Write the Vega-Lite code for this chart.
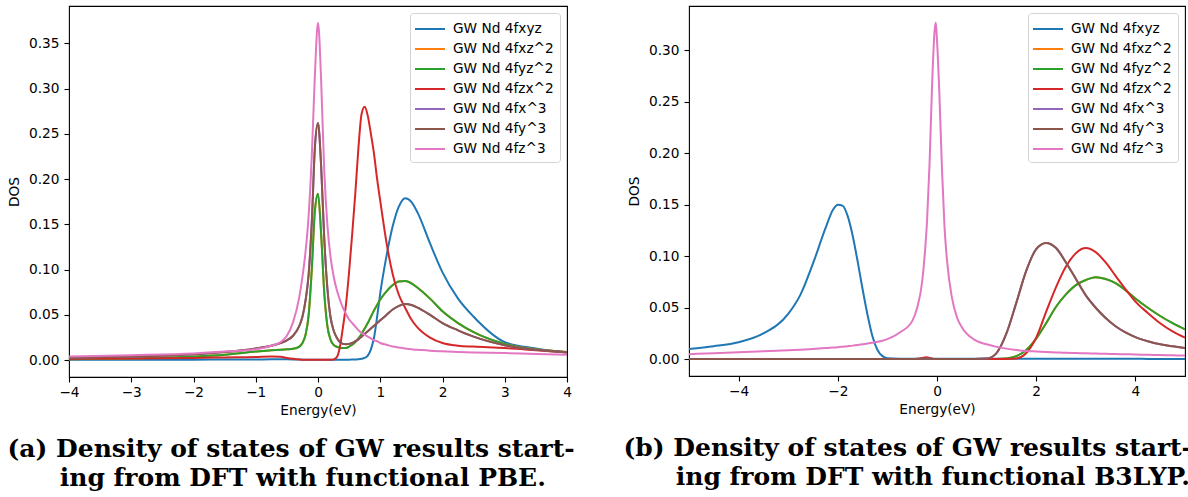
{
  "$schema": "https://vega.github.io/schema/vega-lite/v6.json",
  "background": "white",
  "padding": {"left": 6, "top": 5, "right": 0, "bottom": 0},
  "datasets": {
    "pbe": [
      {"e": -4, "GW Nd 4fxyz": 0.0005, "GW Nd 4fxz^2": 0.001, "GW Nd 4fyz^2": 0.001, "GW Nd 4fzx^2": 0.0015, "GW Nd 4fx^3": 0.0026, "GW Nd 4fy^3": 0.0026, "GW Nd 4fz^3": 0.004},
      {"e": -3, "GW Nd 4fxyz": 0.0005, "GW Nd 4fxz^2": 0.002, "GW Nd 4fyz^2": 0.002, "GW Nd 4fzx^2": 0.0018, "GW Nd 4fx^3": 0.004, "GW Nd 4fy^3": 0.004, "GW Nd 4fz^3": 0.0055},
      {"e": -2, "GW Nd 4fxyz": 0.0006, "GW Nd 4fxz^2": 0.004, "GW Nd 4fyz^2": 0.004, "GW Nd 4fzx^2": 0.0025, "GW Nd 4fx^3": 0.0065, "GW Nd 4fy^3": 0.0065, "GW Nd 4fz^3": 0.0075},
      {"e": -1.5, "GW Nd 4fxyz": 0.0007, "GW Nd 4fxz^2": 0.006, "GW Nd 4fyz^2": 0.006, "GW Nd 4fzx^2": 0.003, "GW Nd 4fx^3": 0.009, "GW Nd 4fy^3": 0.009, "GW Nd 4fz^3": 0.0095},
      {"e": -1, "GW Nd 4fxyz": 0.0008, "GW Nd 4fxz^2": 0.0095, "GW Nd 4fyz^2": 0.0095, "GW Nd 4fzx^2": 0.0035, "GW Nd 4fx^3": 0.013, "GW Nd 4fy^3": 0.013, "GW Nd 4fz^3": 0.012},
      {"e": -0.75, "GW Nd 4fxyz": 0.0009, "GW Nd 4fxz^2": 0.011, "GW Nd 4fyz^2": 0.011, "GW Nd 4fzx^2": 0.004, "GW Nd 4fx^3": 0.016, "GW Nd 4fy^3": 0.016, "GW Nd 4fz^3": 0.016},
      {"e": -0.6, "GW Nd 4fxyz": 0.001, "GW Nd 4fxz^2": 0.0115, "GW Nd 4fyz^2": 0.0115, "GW Nd 4fzx^2": 0.0038, "GW Nd 4fx^3": 0.019, "GW Nd 4fy^3": 0.019, "GW Nd 4fz^3": 0.02},
      {"e": -0.5, "GW Nd 4fxyz": 0.0009, "GW Nd 4fxz^2": 0.012, "GW Nd 4fyz^2": 0.012, "GW Nd 4fzx^2": 0.0025, "GW Nd 4fx^3": 0.022, "GW Nd 4fy^3": 0.022, "GW Nd 4fz^3": 0.027},
      {"e": -0.4, "GW Nd 4fxyz": 0.0008, "GW Nd 4fxz^2": 0.0125, "GW Nd 4fyz^2": 0.0125, "GW Nd 4fzx^2": 0.0015, "GW Nd 4fx^3": 0.027, "GW Nd 4fy^3": 0.027, "GW Nd 4fz^3": 0.042},
      {"e": -0.3, "GW Nd 4fxyz": 0.0007, "GW Nd 4fxz^2": 0.015, "GW Nd 4fyz^2": 0.015, "GW Nd 4fzx^2": 0.0008, "GW Nd 4fx^3": 0.038, "GW Nd 4fy^3": 0.038, "GW Nd 4fz^3": 0.07},
      {"e": -0.25, "GW Nd 4fxyz": 0.0006, "GW Nd 4fxz^2": 0.019, "GW Nd 4fyz^2": 0.019, "GW Nd 4fzx^2": 0.0006, "GW Nd 4fx^3": 0.048, "GW Nd 4fy^3": 0.048, "GW Nd 4fz^3": 0.092},
      {"e": -0.2, "GW Nd 4fxyz": 0.0006, "GW Nd 4fxz^2": 0.028, "GW Nd 4fyz^2": 0.028, "GW Nd 4fzx^2": 0.0005, "GW Nd 4fx^3": 0.066, "GW Nd 4fy^3": 0.066, "GW Nd 4fz^3": 0.12},
      {"e": -0.15, "GW Nd 4fxyz": 0.0006, "GW Nd 4fxz^2": 0.05, "GW Nd 4fyz^2": 0.05, "GW Nd 4fzx^2": 0.0004, "GW Nd 4fx^3": 0.095, "GW Nd 4fy^3": 0.095, "GW Nd 4fz^3": 0.16},
      {"e": -0.1, "GW Nd 4fxyz": 0.0006, "GW Nd 4fxz^2": 0.1, "GW Nd 4fyz^2": 0.1, "GW Nd 4fzx^2": 0.0004, "GW Nd 4fx^3": 0.152, "GW Nd 4fy^3": 0.152, "GW Nd 4fz^3": 0.225},
      {"e": -0.05, "GW Nd 4fxyz": 0.0006, "GW Nd 4fxz^2": 0.165, "GW Nd 4fyz^2": 0.165, "GW Nd 4fzx^2": 0.0004, "GW Nd 4fx^3": 0.235, "GW Nd 4fy^3": 0.235, "GW Nd 4fz^3": 0.315},
      {"e": 0, "GW Nd 4fxyz": 0.0006, "GW Nd 4fxz^2": 0.184, "GW Nd 4fyz^2": 0.184, "GW Nd 4fzx^2": 0.0004, "GW Nd 4fx^3": 0.262, "GW Nd 4fy^3": 0.262, "GW Nd 4fz^3": 0.373},
      {"e": 0.05, "GW Nd 4fxyz": 0.0006, "GW Nd 4fxz^2": 0.14, "GW Nd 4fyz^2": 0.14, "GW Nd 4fzx^2": 0.0004, "GW Nd 4fx^3": 0.215, "GW Nd 4fy^3": 0.215, "GW Nd 4fz^3": 0.31},
      {"e": 0.1, "GW Nd 4fxyz": 0.0006, "GW Nd 4fxz^2": 0.075, "GW Nd 4fyz^2": 0.075, "GW Nd 4fzx^2": 0.0004, "GW Nd 4fx^3": 0.135, "GW Nd 4fy^3": 0.135, "GW Nd 4fz^3": 0.21},
      {"e": 0.15, "GW Nd 4fxyz": 0.0006, "GW Nd 4fxz^2": 0.038, "GW Nd 4fyz^2": 0.038, "GW Nd 4fzx^2": 0.0004, "GW Nd 4fx^3": 0.08, "GW Nd 4fy^3": 0.08, "GW Nd 4fz^3": 0.15},
      {"e": 0.2, "GW Nd 4fxyz": 0.0006, "GW Nd 4fxz^2": 0.023, "GW Nd 4fyz^2": 0.023, "GW Nd 4fzx^2": 0.0005, "GW Nd 4fx^3": 0.048, "GW Nd 4fy^3": 0.048, "GW Nd 4fz^3": 0.115},
      {"e": 0.25, "GW Nd 4fxyz": 0.0006, "GW Nd 4fxz^2": 0.017, "GW Nd 4fyz^2": 0.017, "GW Nd 4fzx^2": 0.0008, "GW Nd 4fx^3": 0.033, "GW Nd 4fy^3": 0.033, "GW Nd 4fz^3": 0.093},
      {"e": 0.3, "GW Nd 4fxyz": 0.0006, "GW Nd 4fxz^2": 0.0148, "GW Nd 4fyz^2": 0.0148, "GW Nd 4fzx^2": 0.003, "GW Nd 4fx^3": 0.025, "GW Nd 4fy^3": 0.025, "GW Nd 4fz^3": 0.078},
      {"e": 0.35, "GW Nd 4fxyz": 0.0006, "GW Nd 4fxz^2": 0.0138, "GW Nd 4fyz^2": 0.0138, "GW Nd 4fzx^2": 0.014, "GW Nd 4fx^3": 0.02, "GW Nd 4fy^3": 0.02, "GW Nd 4fz^3": 0.067},
      {"e": 0.4, "GW Nd 4fxyz": 0.0006, "GW Nd 4fxz^2": 0.0135, "GW Nd 4fyz^2": 0.0135, "GW Nd 4fzx^2": 0.036, "GW Nd 4fx^3": 0.018, "GW Nd 4fy^3": 0.018, "GW Nd 4fz^3": 0.058},
      {"e": 0.45, "GW Nd 4fxyz": 0.0006, "GW Nd 4fxz^2": 0.0135, "GW Nd 4fyz^2": 0.0135, "GW Nd 4fzx^2": 0.062, "GW Nd 4fx^3": 0.0175, "GW Nd 4fy^3": 0.0175, "GW Nd 4fz^3": 0.051},
      {"e": 0.5, "GW Nd 4fxyz": 0.0006, "GW Nd 4fxz^2": 0.015, "GW Nd 4fyz^2": 0.015, "GW Nd 4fzx^2": 0.098, "GW Nd 4fx^3": 0.018, "GW Nd 4fy^3": 0.018, "GW Nd 4fz^3": 0.045},
      {"e": 0.55, "GW Nd 4fxyz": 0.0007, "GW Nd 4fxz^2": 0.017, "GW Nd 4fyz^2": 0.017, "GW Nd 4fzx^2": 0.14, "GW Nd 4fx^3": 0.019, "GW Nd 4fy^3": 0.019, "GW Nd 4fz^3": 0.041},
      {"e": 0.6, "GW Nd 4fxyz": 0.0008, "GW Nd 4fxz^2": 0.02, "GW Nd 4fyz^2": 0.02, "GW Nd 4fzx^2": 0.185, "GW Nd 4fx^3": 0.021, "GW Nd 4fy^3": 0.021, "GW Nd 4fz^3": 0.037},
      {"e": 0.65, "GW Nd 4fxyz": 0.001, "GW Nd 4fxz^2": 0.024, "GW Nd 4fyz^2": 0.024, "GW Nd 4fzx^2": 0.235, "GW Nd 4fx^3": 0.023, "GW Nd 4fy^3": 0.023, "GW Nd 4fz^3": 0.033},
      {"e": 0.7, "GW Nd 4fxyz": 0.0015, "GW Nd 4fxz^2": 0.029, "GW Nd 4fyz^2": 0.029, "GW Nd 4fzx^2": 0.272, "GW Nd 4fx^3": 0.026, "GW Nd 4fy^3": 0.026, "GW Nd 4fz^3": 0.03},
      {"e": 0.75, "GW Nd 4fxyz": 0.0025, "GW Nd 4fxz^2": 0.035, "GW Nd 4fyz^2": 0.035, "GW Nd 4fzx^2": 0.28, "GW Nd 4fx^3": 0.029, "GW Nd 4fy^3": 0.029, "GW Nd 4fz^3": 0.028},
      {"e": 0.8, "GW Nd 4fxyz": 0.005, "GW Nd 4fxz^2": 0.041, "GW Nd 4fyz^2": 0.041, "GW Nd 4fzx^2": 0.27, "GW Nd 4fx^3": 0.032, "GW Nd 4fy^3": 0.032, "GW Nd 4fz^3": 0.026},
      {"e": 0.85, "GW Nd 4fxyz": 0.012, "GW Nd 4fxz^2": 0.048, "GW Nd 4fyz^2": 0.048, "GW Nd 4fzx^2": 0.25, "GW Nd 4fx^3": 0.035, "GW Nd 4fy^3": 0.035, "GW Nd 4fz^3": 0.024},
      {"e": 0.9, "GW Nd 4fxyz": 0.025, "GW Nd 4fxz^2": 0.055, "GW Nd 4fyz^2": 0.055, "GW Nd 4fzx^2": 0.228, "GW Nd 4fx^3": 0.038, "GW Nd 4fy^3": 0.038, "GW Nd 4fz^3": 0.022},
      {"e": 0.95, "GW Nd 4fxyz": 0.048, "GW Nd 4fxz^2": 0.061, "GW Nd 4fyz^2": 0.061, "GW Nd 4fzx^2": 0.2, "GW Nd 4fx^3": 0.041, "GW Nd 4fy^3": 0.041, "GW Nd 4fz^3": 0.021},
      {"e": 1.0, "GW Nd 4fxyz": 0.074, "GW Nd 4fxz^2": 0.067, "GW Nd 4fyz^2": 0.067, "GW Nd 4fzx^2": 0.176, "GW Nd 4fx^3": 0.044, "GW Nd 4fy^3": 0.044, "GW Nd 4fz^3": 0.019},
      {"e": 1.1, "GW Nd 4fxyz": 0.115, "GW Nd 4fxz^2": 0.076, "GW Nd 4fyz^2": 0.076, "GW Nd 4fzx^2": 0.13, "GW Nd 4fx^3": 0.05, "GW Nd 4fy^3": 0.05, "GW Nd 4fz^3": 0.017},
      {"e": 1.2, "GW Nd 4fxyz": 0.148, "GW Nd 4fxz^2": 0.083, "GW Nd 4fyz^2": 0.083, "GW Nd 4fzx^2": 0.095, "GW Nd 4fx^3": 0.056, "GW Nd 4fy^3": 0.056, "GW Nd 4fz^3": 0.015},
      {"e": 1.3, "GW Nd 4fxyz": 0.17, "GW Nd 4fxz^2": 0.087, "GW Nd 4fyz^2": 0.087, "GW Nd 4fzx^2": 0.072, "GW Nd 4fx^3": 0.06, "GW Nd 4fy^3": 0.06, "GW Nd 4fz^3": 0.014},
      {"e": 1.4, "GW Nd 4fxyz": 0.179, "GW Nd 4fxz^2": 0.0875, "GW Nd 4fyz^2": 0.0875, "GW Nd 4fzx^2": 0.058, "GW Nd 4fx^3": 0.062, "GW Nd 4fy^3": 0.062, "GW Nd 4fz^3": 0.013},
      {"e": 1.5, "GW Nd 4fxyz": 0.175, "GW Nd 4fxz^2": 0.085, "GW Nd 4fyz^2": 0.085, "GW Nd 4fzx^2": 0.045, "GW Nd 4fx^3": 0.061, "GW Nd 4fy^3": 0.061, "GW Nd 4fz^3": 0.012},
      {"e": 1.6, "GW Nd 4fxyz": 0.163, "GW Nd 4fxz^2": 0.08, "GW Nd 4fyz^2": 0.08, "GW Nd 4fzx^2": 0.036, "GW Nd 4fx^3": 0.058, "GW Nd 4fy^3": 0.058, "GW Nd 4fz^3": 0.0115},
      {"e": 1.8, "GW Nd 4fxyz": 0.129, "GW Nd 4fxz^2": 0.068, "GW Nd 4fyz^2": 0.068, "GW Nd 4fzx^2": 0.025, "GW Nd 4fx^3": 0.05, "GW Nd 4fy^3": 0.05, "GW Nd 4fz^3": 0.0105},
      {"e": 2.0, "GW Nd 4fxyz": 0.097, "GW Nd 4fxz^2": 0.054, "GW Nd 4fyz^2": 0.054, "GW Nd 4fzx^2": 0.019, "GW Nd 4fx^3": 0.041, "GW Nd 4fy^3": 0.041, "GW Nd 4fz^3": 0.0098},
      {"e": 2.25, "GW Nd 4fxyz": 0.068, "GW Nd 4fxz^2": 0.041, "GW Nd 4fyz^2": 0.041, "GW Nd 4fzx^2": 0.016, "GW Nd 4fx^3": 0.033, "GW Nd 4fy^3": 0.033, "GW Nd 4fz^3": 0.009},
      {"e": 2.5, "GW Nd 4fxyz": 0.048, "GW Nd 4fxz^2": 0.031, "GW Nd 4fyz^2": 0.031, "GW Nd 4fzx^2": 0.015, "GW Nd 4fx^3": 0.026, "GW Nd 4fy^3": 0.026, "GW Nd 4fz^3": 0.0085},
      {"e": 3.0, "GW Nd 4fxyz": 0.02, "GW Nd 4fxz^2": 0.018, "GW Nd 4fyz^2": 0.018, "GW Nd 4fzx^2": 0.0135, "GW Nd 4fx^3": 0.0165, "GW Nd 4fy^3": 0.0165, "GW Nd 4fz^3": 0.0078},
      {"e": 3.5, "GW Nd 4fxyz": 0.013, "GW Nd 4fxz^2": 0.012, "GW Nd 4fyz^2": 0.012, "GW Nd 4fzx^2": 0.011, "GW Nd 4fx^3": 0.0115, "GW Nd 4fy^3": 0.0115, "GW Nd 4fz^3": 0.0068},
      {"e": 4.0, "GW Nd 4fxyz": 0.0085, "GW Nd 4fxz^2": 0.009, "GW Nd 4fyz^2": 0.009, "GW Nd 4fzx^2": 0.0085, "GW Nd 4fx^3": 0.0088, "GW Nd 4fy^3": 0.0088, "GW Nd 4fz^3": 0.006}
    ],
    "b3lyp": [
      {"e": -5, "GW Nd 4fxyz": 0.01, "GW Nd 4fxz^2": 0.0002, "GW Nd 4fyz^2": 0.0002, "GW Nd 4fzx^2": 0.0002, "GW Nd 4fx^3": 0.0003, "GW Nd 4fy^3": 0.0003, "GW Nd 4fz^3": 0.0049},
      {"e": -4.5, "GW Nd 4fxyz": 0.0126, "GW Nd 4fxz^2": 0.0002, "GW Nd 4fyz^2": 0.0002, "GW Nd 4fzx^2": 0.0002, "GW Nd 4fx^3": 0.0003, "GW Nd 4fy^3": 0.0003, "GW Nd 4fz^3": 0.0058},
      {"e": -4, "GW Nd 4fxyz": 0.0165, "GW Nd 4fxz^2": 0.0002, "GW Nd 4fyz^2": 0.0002, "GW Nd 4fzx^2": 0.0002, "GW Nd 4fx^3": 0.0003, "GW Nd 4fy^3": 0.0003, "GW Nd 4fz^3": 0.0068},
      {"e": -3.5, "GW Nd 4fxyz": 0.025, "GW Nd 4fxz^2": 0.0002, "GW Nd 4fyz^2": 0.0002, "GW Nd 4fzx^2": 0.0002, "GW Nd 4fx^3": 0.0003, "GW Nd 4fy^3": 0.0003, "GW Nd 4fz^3": 0.0077},
      {"e": -3, "GW Nd 4fxyz": 0.044, "GW Nd 4fxz^2": 0.0002, "GW Nd 4fyz^2": 0.0002, "GW Nd 4fzx^2": 0.0002, "GW Nd 4fx^3": 0.0003, "GW Nd 4fy^3": 0.0003, "GW Nd 4fz^3": 0.0087},
      {"e": -2.75, "GW Nd 4fxyz": 0.063, "GW Nd 4fxz^2": 0.0002, "GW Nd 4fyz^2": 0.0002, "GW Nd 4fzx^2": 0.0002, "GW Nd 4fx^3": 0.0003, "GW Nd 4fy^3": 0.0003, "GW Nd 4fz^3": 0.0093},
      {"e": -2.5, "GW Nd 4fxyz": 0.093, "GW Nd 4fxz^2": 0.0002, "GW Nd 4fyz^2": 0.0002, "GW Nd 4fzx^2": 0.0002, "GW Nd 4fx^3": 0.0003, "GW Nd 4fy^3": 0.0003, "GW Nd 4fz^3": 0.01},
      {"e": -2.25, "GW Nd 4fxyz": 0.127, "GW Nd 4fxz^2": 0.0002, "GW Nd 4fyz^2": 0.0002, "GW Nd 4fzx^2": 0.0002, "GW Nd 4fx^3": 0.0003, "GW Nd 4fy^3": 0.0003, "GW Nd 4fz^3": 0.0108},
      {"e": -2.1, "GW Nd 4fxyz": 0.145, "GW Nd 4fxz^2": 0.0002, "GW Nd 4fyz^2": 0.0002, "GW Nd 4fzx^2": 0.0002, "GW Nd 4fx^3": 0.0003, "GW Nd 4fy^3": 0.0003, "GW Nd 4fz^3": 0.0113},
      {"e": -2.0, "GW Nd 4fxyz": 0.15, "GW Nd 4fxz^2": 0.0002, "GW Nd 4fyz^2": 0.0002, "GW Nd 4fzx^2": 0.0002, "GW Nd 4fx^3": 0.0003, "GW Nd 4fy^3": 0.0003, "GW Nd 4fz^3": 0.0117},
      {"e": -1.9, "GW Nd 4fxyz": 0.149, "GW Nd 4fxz^2": 0.0002, "GW Nd 4fyz^2": 0.0002, "GW Nd 4fzx^2": 0.0002, "GW Nd 4fx^3": 0.0003, "GW Nd 4fy^3": 0.0003, "GW Nd 4fz^3": 0.0122},
      {"e": -1.8, "GW Nd 4fxyz": 0.139, "GW Nd 4fxz^2": 0.0002, "GW Nd 4fyz^2": 0.0002, "GW Nd 4fzx^2": 0.0002, "GW Nd 4fx^3": 0.0003, "GW Nd 4fy^3": 0.0003, "GW Nd 4fz^3": 0.0127},
      {"e": -1.7, "GW Nd 4fxyz": 0.12, "GW Nd 4fxz^2": 0.0002, "GW Nd 4fyz^2": 0.0002, "GW Nd 4fzx^2": 0.0002, "GW Nd 4fx^3": 0.0003, "GW Nd 4fy^3": 0.0003, "GW Nd 4fz^3": 0.0132},
      {"e": -1.6, "GW Nd 4fxyz": 0.095, "GW Nd 4fxz^2": 0.0002, "GW Nd 4fyz^2": 0.0002, "GW Nd 4fzx^2": 0.0002, "GW Nd 4fx^3": 0.0003, "GW Nd 4fy^3": 0.0003, "GW Nd 4fz^3": 0.0138},
      {"e": -1.5, "GW Nd 4fxyz": 0.068, "GW Nd 4fxz^2": 0.0002, "GW Nd 4fyz^2": 0.0002, "GW Nd 4fzx^2": 0.0002, "GW Nd 4fx^3": 0.0003, "GW Nd 4fy^3": 0.0003, "GW Nd 4fz^3": 0.0145},
      {"e": -1.4, "GW Nd 4fxyz": 0.043, "GW Nd 4fxz^2": 0.0002, "GW Nd 4fyz^2": 0.0002, "GW Nd 4fzx^2": 0.0002, "GW Nd 4fx^3": 0.0003, "GW Nd 4fy^3": 0.0003, "GW Nd 4fz^3": 0.0152},
      {"e": -1.3, "GW Nd 4fxyz": 0.022, "GW Nd 4fxz^2": 0.0002, "GW Nd 4fyz^2": 0.0002, "GW Nd 4fzx^2": 0.0002, "GW Nd 4fx^3": 0.0003, "GW Nd 4fy^3": 0.0003, "GW Nd 4fz^3": 0.016},
      {"e": -1.2, "GW Nd 4fxyz": 0.009, "GW Nd 4fxz^2": 0.0002, "GW Nd 4fyz^2": 0.0002, "GW Nd 4fzx^2": 0.0002, "GW Nd 4fx^3": 0.0003, "GW Nd 4fy^3": 0.0003, "GW Nd 4fz^3": 0.017},
      {"e": -1.1, "GW Nd 4fxyz": 0.003, "GW Nd 4fxz^2": 0.0002, "GW Nd 4fyz^2": 0.0002, "GW Nd 4fzx^2": 0.0002, "GW Nd 4fx^3": 0.0003, "GW Nd 4fy^3": 0.0003, "GW Nd 4fz^3": 0.018},
      {"e": -1.0, "GW Nd 4fxyz": 0.001, "GW Nd 4fxz^2": 0.0002, "GW Nd 4fyz^2": 0.0002, "GW Nd 4fzx^2": 0.0002, "GW Nd 4fx^3": 0.0003, "GW Nd 4fy^3": 0.0003, "GW Nd 4fz^3": 0.0195},
      {"e": -0.75, "GW Nd 4fxyz": 0.0005, "GW Nd 4fxz^2": 0.0002, "GW Nd 4fyz^2": 0.0002, "GW Nd 4fzx^2": 0.0002, "GW Nd 4fx^3": 0.0003, "GW Nd 4fy^3": 0.0003, "GW Nd 4fz^3": 0.026},
      {"e": -0.5, "GW Nd 4fxyz": 0.0004, "GW Nd 4fxz^2": 0.0002, "GW Nd 4fyz^2": 0.0002, "GW Nd 4fzx^2": 0.0003, "GW Nd 4fx^3": 0.0003, "GW Nd 4fy^3": 0.0003, "GW Nd 4fz^3": 0.037},
      {"e": -0.4, "GW Nd 4fxyz": 0.0004, "GW Nd 4fxz^2": 0.0002, "GW Nd 4fyz^2": 0.0002, "GW Nd 4fzx^2": 0.0005, "GW Nd 4fx^3": 0.0003, "GW Nd 4fy^3": 0.0003, "GW Nd 4fz^3": 0.05},
      {"e": -0.3, "GW Nd 4fxyz": 0.0004, "GW Nd 4fxz^2": 0.0002, "GW Nd 4fyz^2": 0.0002, "GW Nd 4fzx^2": 0.0012, "GW Nd 4fx^3": 0.0004, "GW Nd 4fy^3": 0.0004, "GW Nd 4fz^3": 0.075},
      {"e": -0.25, "GW Nd 4fxyz": 0.0004, "GW Nd 4fxz^2": 0.0002, "GW Nd 4fyz^2": 0.0002, "GW Nd 4fzx^2": 0.0018, "GW Nd 4fx^3": 0.0005, "GW Nd 4fy^3": 0.0005, "GW Nd 4fz^3": 0.1},
      {"e": -0.2, "GW Nd 4fxyz": 0.0004, "GW Nd 4fxz^2": 0.0002, "GW Nd 4fyz^2": 0.0002, "GW Nd 4fzx^2": 0.002, "GW Nd 4fx^3": 0.0006, "GW Nd 4fy^3": 0.0006, "GW Nd 4fz^3": 0.135},
      {"e": -0.15, "GW Nd 4fxyz": 0.0004, "GW Nd 4fxz^2": 0.0002, "GW Nd 4fyz^2": 0.0002, "GW Nd 4fzx^2": 0.0012, "GW Nd 4fx^3": 0.0004, "GW Nd 4fy^3": 0.0004, "GW Nd 4fz^3": 0.19},
      {"e": -0.1, "GW Nd 4fxyz": 0.0004, "GW Nd 4fxz^2": 0.0002, "GW Nd 4fyz^2": 0.0002, "GW Nd 4fzx^2": 0.0006, "GW Nd 4fx^3": 0.0003, "GW Nd 4fy^3": 0.0003, "GW Nd 4fz^3": 0.265},
      {"e": -0.05, "GW Nd 4fxyz": 0.0004, "GW Nd 4fxz^2": 0.0002, "GW Nd 4fyz^2": 0.0002, "GW Nd 4fzx^2": 0.0003, "GW Nd 4fx^3": 0.0003, "GW Nd 4fy^3": 0.0003, "GW Nd 4fz^3": 0.318},
      {"e": -0.025, "GW Nd 4fxyz": 0.0004, "GW Nd 4fxz^2": 0.0002, "GW Nd 4fyz^2": 0.0002, "GW Nd 4fzx^2": 0.0002, "GW Nd 4fx^3": 0.0003, "GW Nd 4fy^3": 0.0003, "GW Nd 4fz^3": 0.327},
      {"e": 0, "GW Nd 4fxyz": 0.0004, "GW Nd 4fxz^2": 0.0002, "GW Nd 4fyz^2": 0.0002, "GW Nd 4fzx^2": 0.0002, "GW Nd 4fx^3": 0.0003, "GW Nd 4fy^3": 0.0003, "GW Nd 4fz^3": 0.31},
      {"e": 0.05, "GW Nd 4fxyz": 0.0004, "GW Nd 4fxz^2": 0.0002, "GW Nd 4fyz^2": 0.0002, "GW Nd 4fzx^2": 0.0002, "GW Nd 4fx^3": 0.0003, "GW Nd 4fy^3": 0.0003, "GW Nd 4fz^3": 0.255},
      {"e": 0.1, "GW Nd 4fxyz": 0.0004, "GW Nd 4fxz^2": 0.0002, "GW Nd 4fyz^2": 0.0002, "GW Nd 4fzx^2": 0.0002, "GW Nd 4fx^3": 0.0003, "GW Nd 4fy^3": 0.0003, "GW Nd 4fz^3": 0.185},
      {"e": 0.15, "GW Nd 4fxyz": 0.0004, "GW Nd 4fxz^2": 0.0002, "GW Nd 4fyz^2": 0.0002, "GW Nd 4fzx^2": 0.0002, "GW Nd 4fx^3": 0.0003, "GW Nd 4fy^3": 0.0003, "GW Nd 4fz^3": 0.13},
      {"e": 0.2, "GW Nd 4fxyz": 0.0004, "GW Nd 4fxz^2": 0.0002, "GW Nd 4fyz^2": 0.0002, "GW Nd 4fzx^2": 0.0002, "GW Nd 4fx^3": 0.0003, "GW Nd 4fy^3": 0.0003, "GW Nd 4fz^3": 0.097},
      {"e": 0.3, "GW Nd 4fxyz": 0.0004, "GW Nd 4fxz^2": 0.0002, "GW Nd 4fyz^2": 0.0002, "GW Nd 4fzx^2": 0.0002, "GW Nd 4fx^3": 0.0003, "GW Nd 4fy^3": 0.0003, "GW Nd 4fz^3": 0.06},
      {"e": 0.4, "GW Nd 4fxyz": 0.0004, "GW Nd 4fxz^2": 0.0002, "GW Nd 4fyz^2": 0.0002, "GW Nd 4fzx^2": 0.0002, "GW Nd 4fx^3": 0.0003, "GW Nd 4fy^3": 0.0003, "GW Nd 4fz^3": 0.041},
      {"e": 0.5, "GW Nd 4fxyz": 0.0004, "GW Nd 4fxz^2": 0.0002, "GW Nd 4fyz^2": 0.0002, "GW Nd 4fzx^2": 0.0002, "GW Nd 4fx^3": 0.0003, "GW Nd 4fy^3": 0.0003, "GW Nd 4fz^3": 0.031},
      {"e": 0.75, "GW Nd 4fxyz": 0.0004, "GW Nd 4fxz^2": 0.0002, "GW Nd 4fyz^2": 0.0002, "GW Nd 4fzx^2": 0.0002, "GW Nd 4fx^3": 0.0003, "GW Nd 4fy^3": 0.0003, "GW Nd 4fz^3": 0.019},
      {"e": 1.0, "GW Nd 4fxyz": 0.0004, "GW Nd 4fxz^2": 0.0002, "GW Nd 4fyz^2": 0.0002, "GW Nd 4fzx^2": 0.0002, "GW Nd 4fx^3": 0.0006, "GW Nd 4fy^3": 0.0006, "GW Nd 4fz^3": 0.0145},
      {"e": 1.2, "GW Nd 4fxyz": 0.0004, "GW Nd 4fxz^2": 0.0003, "GW Nd 4fyz^2": 0.0003, "GW Nd 4fzx^2": 0.0002, "GW Nd 4fx^3": 0.006, "GW Nd 4fy^3": 0.006, "GW Nd 4fz^3": 0.012},
      {"e": 1.4, "GW Nd 4fxyz": 0.0004, "GW Nd 4fxz^2": 0.0008, "GW Nd 4fyz^2": 0.0008, "GW Nd 4fzx^2": 0.0003, "GW Nd 4fx^3": 0.025, "GW Nd 4fy^3": 0.025, "GW Nd 4fz^3": 0.0103},
      {"e": 1.6, "GW Nd 4fxyz": 0.0004, "GW Nd 4fxz^2": 0.003, "GW Nd 4fyz^2": 0.003, "GW Nd 4fzx^2": 0.0008, "GW Nd 4fx^3": 0.055, "GW Nd 4fy^3": 0.055, "GW Nd 4fz^3": 0.009},
      {"e": 1.8, "GW Nd 4fxyz": 0.0004, "GW Nd 4fxz^2": 0.009, "GW Nd 4fyz^2": 0.009, "GW Nd 4fzx^2": 0.006, "GW Nd 4fx^3": 0.086, "GW Nd 4fy^3": 0.086, "GW Nd 4fz^3": 0.008},
      {"e": 2.0, "GW Nd 4fxyz": 0.0004, "GW Nd 4fxz^2": 0.02, "GW Nd 4fyz^2": 0.02, "GW Nd 4fzx^2": 0.021, "GW Nd 4fx^3": 0.107, "GW Nd 4fy^3": 0.107, "GW Nd 4fz^3": 0.0075},
      {"e": 2.2, "GW Nd 4fxyz": 0.0004, "GW Nd 4fxz^2": 0.035, "GW Nd 4fyz^2": 0.035, "GW Nd 4fzx^2": 0.046, "GW Nd 4fx^3": 0.113, "GW Nd 4fy^3": 0.113, "GW Nd 4fz^3": 0.007},
      {"e": 2.4, "GW Nd 4fxyz": 0.0004, "GW Nd 4fxz^2": 0.051, "GW Nd 4fyz^2": 0.051, "GW Nd 4fzx^2": 0.07, "GW Nd 4fx^3": 0.108, "GW Nd 4fy^3": 0.108, "GW Nd 4fz^3": 0.0066},
      {"e": 2.6, "GW Nd 4fxyz": 0.0004, "GW Nd 4fxz^2": 0.063, "GW Nd 4fyz^2": 0.063, "GW Nd 4fzx^2": 0.09, "GW Nd 4fx^3": 0.094, "GW Nd 4fy^3": 0.094, "GW Nd 4fz^3": 0.0062},
      {"e": 2.8, "GW Nd 4fxyz": 0.0004, "GW Nd 4fxz^2": 0.072, "GW Nd 4fyz^2": 0.072, "GW Nd 4fzx^2": 0.103, "GW Nd 4fx^3": 0.078, "GW Nd 4fy^3": 0.078, "GW Nd 4fz^3": 0.006},
      {"e": 3.0, "GW Nd 4fxyz": 0.0004, "GW Nd 4fxz^2": 0.077, "GW Nd 4fyz^2": 0.077, "GW Nd 4fzx^2": 0.108, "GW Nd 4fx^3": 0.062, "GW Nd 4fy^3": 0.062, "GW Nd 4fz^3": 0.0058},
      {"e": 3.2, "GW Nd 4fxyz": 0.0004, "GW Nd 4fxz^2": 0.0797, "GW Nd 4fyz^2": 0.0797, "GW Nd 4fzx^2": 0.104, "GW Nd 4fx^3": 0.05, "GW Nd 4fy^3": 0.05, "GW Nd 4fz^3": 0.0055},
      {"e": 3.4, "GW Nd 4fxyz": 0.0004, "GW Nd 4fxz^2": 0.078, "GW Nd 4fyz^2": 0.078, "GW Nd 4fzx^2": 0.094, "GW Nd 4fx^3": 0.04, "GW Nd 4fy^3": 0.04, "GW Nd 4fz^3": 0.0053},
      {"e": 3.6, "GW Nd 4fxyz": 0.0004, "GW Nd 4fxz^2": 0.074, "GW Nd 4fyz^2": 0.074, "GW Nd 4fzx^2": 0.081, "GW Nd 4fx^3": 0.032, "GW Nd 4fy^3": 0.032, "GW Nd 4fz^3": 0.005},
      {"e": 3.8, "GW Nd 4fxyz": 0.0004, "GW Nd 4fxz^2": 0.067, "GW Nd 4fyz^2": 0.067, "GW Nd 4fzx^2": 0.068, "GW Nd 4fx^3": 0.026, "GW Nd 4fy^3": 0.026, "GW Nd 4fz^3": 0.0048},
      {"e": 4.0, "GW Nd 4fxyz": 0.0004, "GW Nd 4fxz^2": 0.059, "GW Nd 4fyz^2": 0.059, "GW Nd 4fzx^2": 0.056, "GW Nd 4fx^3": 0.0215, "GW Nd 4fy^3": 0.0215, "GW Nd 4fz^3": 0.0046},
      {"e": 4.25, "GW Nd 4fxyz": 0.0003, "GW Nd 4fxz^2": 0.05, "GW Nd 4fyz^2": 0.05, "GW Nd 4fzx^2": 0.045, "GW Nd 4fx^3": 0.0175, "GW Nd 4fy^3": 0.0175, "GW Nd 4fz^3": 0.0043},
      {"e": 4.5, "GW Nd 4fxyz": 0.0003, "GW Nd 4fxz^2": 0.042, "GW Nd 4fyz^2": 0.042, "GW Nd 4fzx^2": 0.035, "GW Nd 4fx^3": 0.0145, "GW Nd 4fy^3": 0.0145, "GW Nd 4fz^3": 0.0041},
      {"e": 4.75, "GW Nd 4fxyz": 0.0003, "GW Nd 4fxz^2": 0.035, "GW Nd 4fyz^2": 0.035, "GW Nd 4fzx^2": 0.027, "GW Nd 4fx^3": 0.0125, "GW Nd 4fy^3": 0.0125, "GW Nd 4fz^3": 0.0038},
      {"e": 5.0, "GW Nd 4fxyz": 0.0003, "GW Nd 4fxz^2": 0.029, "GW Nd 4fyz^2": 0.029, "GW Nd 4fzx^2": 0.021, "GW Nd 4fx^3": 0.0108, "GW Nd 4fy^3": 0.0108, "GW Nd 4fz^3": 0.0036}
    ]
  },
  "hconcat": [
    {
      "width": 498,
      "height": 371,
      "data": {"name": "pbe"},
      "transform": [{"fold": ["GW Nd 4fxyz", "GW Nd 4fxz^2", "GW Nd 4fyz^2", "GW Nd 4fzx^2", "GW Nd 4fx^3", "GW Nd 4fy^3", "GW Nd 4fz^3"], "as": ["series", "dos"]}],
      "mark": {"type": "line", "strokeWidth": 2, "interpolate": "monotone", "clip": true},
      "encoding": {
        "x": {"field": "e", "type": "quantitative", "scale": {"domain": [-4, 4], "nice": false, "zero": false}, "axis": {"title": "Energy(eV)", "values": [-4, -3, -2, -1, 0, 1, 2, 3, 4], "format": "d"}},
        "y": {"field": "dos", "type": "quantitative", "scale": {"domain": [-0.0186, 0.3914], "nice": false, "zero": false}, "axis": {"title": "DOS", "values": [0, 0.05, 0.1, 0.15, 0.2, 0.25, 0.3, 0.35], "format": ".2f"}},
        "color": {"field": "series", "type": "nominal", "scale": {"domain": ["GW Nd 4fxyz", "GW Nd 4fxz^2", "GW Nd 4fyz^2", "GW Nd 4fzx^2", "GW Nd 4fx^3", "GW Nd 4fy^3", "GW Nd 4fz^3"], "range": ["#1f77b4", "#ff7f0e", "#2ca02c", "#d62728", "#9467bd", "#8c564b", "#e377c2"]}, "legend": {"title": null}}
      },
      "title": {"text": ["(a) Density of states of GW results start-", "\u200b\u00a0\u00a0\u00a0\u00a0\u00a0\u00a0ing from DFT with functional PBE."]}
    },
    {
      "width": 496,
      "height": 370,
      "data": {"name": "b3lyp"},
      "transform": [{"fold": ["GW Nd 4fxyz", "GW Nd 4fxz^2", "GW Nd 4fyz^2", "GW Nd 4fzx^2", "GW Nd 4fx^3", "GW Nd 4fy^3", "GW Nd 4fz^3"], "as": ["series", "dos"]}],
      "mark": {"type": "line", "strokeWidth": 2, "interpolate": "monotone", "clip": true},
      "encoding": {
        "x": {"field": "e", "type": "quantitative", "scale": {"domain": [-5, 5], "nice": false, "zero": false}, "axis": {"title": "Energy(eV)", "values": [-4, -2, 0, 2, 4], "format": "d"}},
        "y": {"field": "dos", "type": "quantitative", "scale": {"domain": [-0.0163, 0.3431], "nice": false, "zero": false}, "axis": {"title": "DOS", "values": [0, 0.05, 0.1, 0.15, 0.2, 0.25, 0.3], "format": ".2f"}},
        "color": {"field": "series", "type": "nominal", "scale": {"domain": ["GW Nd 4fxyz", "GW Nd 4fxz^2", "GW Nd 4fyz^2", "GW Nd 4fzx^2", "GW Nd 4fx^3", "GW Nd 4fy^3", "GW Nd 4fz^3"], "range": ["#1f77b4", "#ff7f0e", "#2ca02c", "#d62728", "#9467bd", "#8c564b", "#e377c2"]}, "legend": {"title": null}}
      },
      "title": {"text": ["(b) Density of states of GW results start-", "\u200b\u00a0\u00a0\u00a0\u00a0\u00a0\u00a0ing from DFT with functional B3LYP."], "dx": -4}
    }
  ],
  "spacing": 122,
  "bounds": "flush",
  "resolve": {"scale": {"color": "independent", "x": "independent", "y": "independent"}, "legend": {"color": "independent"}},
  "config": {
    "view": {"stroke": "#000", "strokeWidth": 1.1},
    "axis": {"domain": false, "grid": false, "tickColor": "#000", "tickWidth": 1.1, "tickSize": 5, "labelFont": "DejaVu Sans", "labelFontSize": 13.7, "labelColor": "#000", "labelPadding": 3, "labelFlush": false, "labelOverlap": false, "titleFont": "DejaVu Sans", "titleFontSize": 13.7, "titleFontWeight": "normal", "titleColor": "#000", "titlePadding": 5},
    "axisY": {"labelPadding": 5, "titlePadding": 7},
    "legend": {"orient": "top-right", "offset": 7, "labelFont": "DejaVu Sans", "labelFontSize": 13.7, "labelColor": "#000", "labelLimit": 300, "symbolType": "M-1.667,0H1.667", "symbolSize": 324, "symbolStrokeWidth": 2, "rowPadding": 3, "padding": 6, "fillColor": "white", "strokeColor": "#d3d3d3", "cornerRadius": 3, "labelOffset": 13, "symbolOffset": 4},
    "title": {"orient": "bottom", "anchor": "start", "frame": "bounds", "font": "DejaVu Serif", "fontSize": 25, "fontWeight": "bold", "color": "#000", "lineHeight": 29, "offset": 20}
  }
}
